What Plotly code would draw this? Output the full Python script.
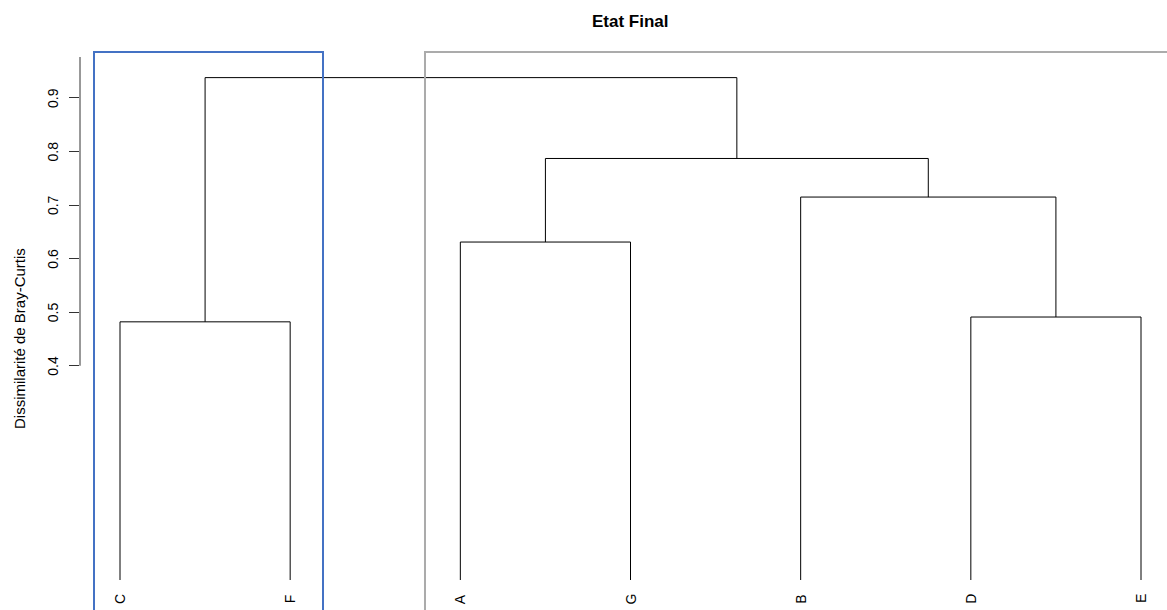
import plotly.graph_objects as go

# ---- data ----
leaf_labels = ["C", "F", "A", "G", "B", "D", "E"]
merge_left = ["C", "D", "A", "B", "AG", "CF"]
merge_right = ["F", "E", "G", "DE", "BDE", "AGBDE"]
merge_names = ["CF", "DE", "AG", "BDE", "AGBDE", "ALL"]
merge_heights = [0.482, 0.491, 0.631, 0.715, 0.787, 0.938]
y_ticks = [0.4, 0.5, 0.6, 0.7, 0.8, 0.9]
title_text = "Etat Final"
y_label = "Dissimilarité de Bray-Curtis"

W, H = 1167, 610
ML, MT = 80, 40
PW, PH = W - ML, H - MT          # plot area on screen: x 80..1167, y 40..610
UX = 170.17                      # px per leaf unit
UY = 535.6                       # px per dissimilarity unit
x_range = [1 - (120 - 80) / UX, 7 + (1167 - 1141) / UX]
y_range = [-(610 - 580) / UY, (580 - 40) / UY]


def sx_to_x(sx):
    return 1 + (sx - 120) / UX


def sx_to_paper(sx):
    return (sx - 80) / PW


def sy_to_paper(sy):
    return (610 - sy) / PH


# dendrogram segments
pos = {lab: (i + 1, 0.0) for i, lab in enumerate(leaf_labels)}
xs, ys = [], []
for l, r, name, h in zip(merge_left, merge_right, merge_names, merge_heights):
    xl, hl = pos[l]
    xr, hr = pos[r]
    xs += [xl, xl, xr, xr, None]
    ys += [hl, h, h, hr, None]
    pos[name] = ((xl + xr) / 2, h)

fig = go.Figure()
fig.add_trace(go.Scatter(x=xs, y=ys, mode="lines",
                         line=dict(color="black", width=1),
                         hoverinfo="skip", showlegend=False))

# cluster rectangles
rect_top = (580 - 52) / UY
fig.add_shape(type="rect", xref="x", yref="y",
              x0=sx_to_x(94), x1=sx_to_x(323), y0=-0.3, y1=rect_top,
              line=dict(color="#4472C4", width=2))
fig.add_shape(type="rect", xref="x", yref="y",
              x0=sx_to_x(425), x1=sx_to_x(1250), y0=-0.3, y1=rect_top,
              line=dict(color="#ABABAB", width=2))

# y axis line (custom extent)
fig.add_shape(type="line", xref="paper", yref="y", x0=0, x1=0,
              y0=0.4, y1=(580 - 57) / UY, line=dict(color="#333333", width=1))

FONT = "Liberation Sans, Arial, Helvetica"
annotations = []
for i, lab in enumerate(leaf_labels):
    annotations.append(dict(x=i + 1, y=sy_to_paper(599), xref="x", yref="paper",
                            xanchor="center", yanchor="middle",
                            text=lab, showarrow=False, textangle=-90,
                            font=dict(size=14, color="black", family=FONT)))
for t in y_ticks:
    annotations.append(dict(x=sx_to_paper(53), y=t, xref="paper", yref="y",
                            xanchor="center", yanchor="middle",
                            text=f"{t:.1f}", showarrow=False, textangle=-90,
                            font=dict(size=14, color="black", family=FONT)))
annotations.append(dict(x=sx_to_paper(19), y=sy_to_paper(339), xref="paper", yref="paper",
                        xanchor="center", yanchor="middle",
                        text=y_label, showarrow=False, textangle=-90,
                        font=dict(size=15, color="black", family=FONT)))
annotations.append(dict(x=sx_to_paper(630), y=sy_to_paper(22), xref="paper", yref="paper",
                        xanchor="center", yanchor="middle",
                        text=f"<b>{title_text}</b>", showarrow=False,
                        font=dict(size=17, color="black", family=FONT)))

fig.update_layout(
    width=W, height=H,
    margin=dict(l=ML, r=0, t=MT, b=0),
    plot_bgcolor="white", paper_bgcolor="white",
    annotations=annotations,
    xaxis=dict(range=x_range, visible=False, fixedrange=True),
    yaxis=dict(range=y_range, showgrid=False, zeroline=False, showline=False,
               tickvals=y_ticks, ticktext=["" for _ in y_ticks],
               ticks="outside", ticklen=10, tickcolor="#333333", tickwidth=1,
               fixedrange=True),
    showlegend=False,
)

fig.write_html(
    "out.html",
    config={"displayModeBar": False, "staticPlot": True},
    post_script="document.body.style.margin='0px';"
                "document.body.style.overflow='hidden';",
)
